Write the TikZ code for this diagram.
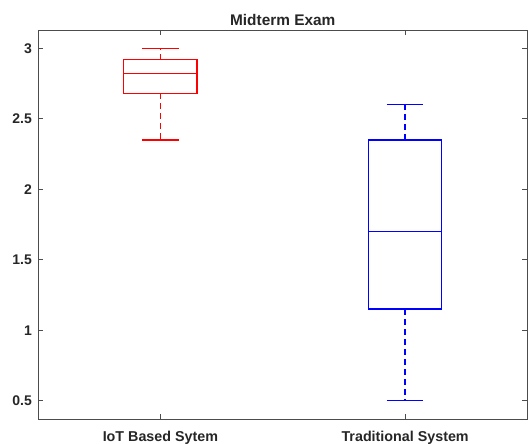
\documentclass[tikz,border=0pt]{standalone}
\usepackage{fontspec}
\setmainfont{Liberation Sans}
\begin{document}
\begin{tikzpicture}[x=244.75bp,y=141bp,
 axisline/.style={draw=black!70,line width=0.7bp},
 ticklab/.style={anchor=east,inner sep=0pt,color=black!85,font=\fontsize{14bp}{16bp}\selectfont\bfseries},
 catlab/.style={anchor=base,inner sep=0pt,color=black!85,font=\fontsize{14.3bp}{16bp}\selectfont\bfseries},
 iotline/.style={color=red,line width=1.3bp},
 tradline/.style={color=blue,line width=1.3bp},
 whisker/.style={dash pattern=on 5.5bp off 4.5bp}]
\useasboundingbox (0.3447,0.1936) rectangle (2.5021,3.3426);
%\draw[step=0.5,very thin,color=gray] (0.5,0.5) grid (2.5,3.0);
% IoT box
\draw[iotline] (0.85,2.68) -- (1.15,2.68) -- (1.15,2.92) -- (0.85,2.92) -- cycle;
\draw[iotline] (0.85,2.82) -- (1.15,2.82);
\draw[iotline,whisker] (1,2.92) -- (1,3.0);
\draw[iotline,whisker] (1,2.68) -- (1,2.35);
\draw[iotline] (0.925,3.0) -- (1.075,3.0);
\draw[iotline] (0.925,2.35) -- (1.075,2.35);
% traditional box
\draw[tradline] (1.85,1.15) -- (2.15,1.15) -- (2.15,2.35) -- (1.85,2.35) -- cycle;
\draw[tradline] (1.85,1.7) -- (2.15,1.7);
\draw[tradline,whisker] (2,2.35) -- (2,2.6);
\draw[tradline,whisker] (2,1.15) -- (2,0.5);
\draw[tradline] (1.925,2.6) -- (2.075,2.6);
\draw[tradline] (1.925,0.5) -- (2.075,0.5);
% axes
\draw[axisline] (0.5,0.371) rectangle (2.5,3.13);
% ticks left and right
\draw[axisline] (0.5,0.5) -- ++(5bp,0);
\draw[axisline] (0.5,1.0) -- ++(5bp,0);
\draw[axisline] (0.5,1.5) -- ++(5bp,0);
\draw[axisline] (0.5,2.0) -- ++(5bp,0);
\draw[axisline] (0.5,2.5) -- ++(5bp,0);
\draw[axisline] (0.5,3.0) -- ++(5bp,0);
\draw[axisline] (2.5,0.5) -- ++(-5bp,0);
\draw[axisline] (2.5,1.0) -- ++(-5bp,0);
\draw[axisline] (2.5,1.5) -- ++(-5bp,0);
\draw[axisline] (2.5,2.0) -- ++(-5bp,0);
\draw[axisline] (2.5,2.5) -- ++(-5bp,0);
\draw[axisline] (2.5,3.0) -- ++(-5bp,0);
% ticks bottom and top
\draw[axisline] (1,0.371) -- ++(0,5bp);
\draw[axisline] (2,0.371) -- ++(0,5bp);
\draw[axisline] (1,3.13) -- ++(0,-5bp);
\draw[axisline] (2,3.13) -- ++(0,-5bp);
% labels
\node[ticklab] (t05) at ([xshift=-6bp]0.5,0.5) {0.5};
\node[ticklab] (t10) at ([xshift=-6bp]0.5,1.0) {1};
\node[ticklab] (t15) at ([xshift=-6bp]0.5,1.5) {1.5};
\node[ticklab] (t20) at ([xshift=-6bp]0.5,2.0) {2};
\node[ticklab] (t25) at ([xshift=-6bp]0.5,2.5) {2.5};
\node[ticklab] (t30) at ([xshift=-6bp]0.5,3.0) {3};
\node[catlab] (iot) at ([yshift=-22.7bp]1,0.371) {IoT Based Sytem};
\node[catlab] (trad) at ([yshift=-22.7bp]2,0.371) {Traditional System};
\node[anchor=base,inner sep=0pt,color=black!85,font=\fontsize{15.4bp}{18bp}\selectfont\bfseries] (title) at ([yshift=4.7bp]1.5,3.13) {Midterm Exam};
\end{tikzpicture}
\end{document}
